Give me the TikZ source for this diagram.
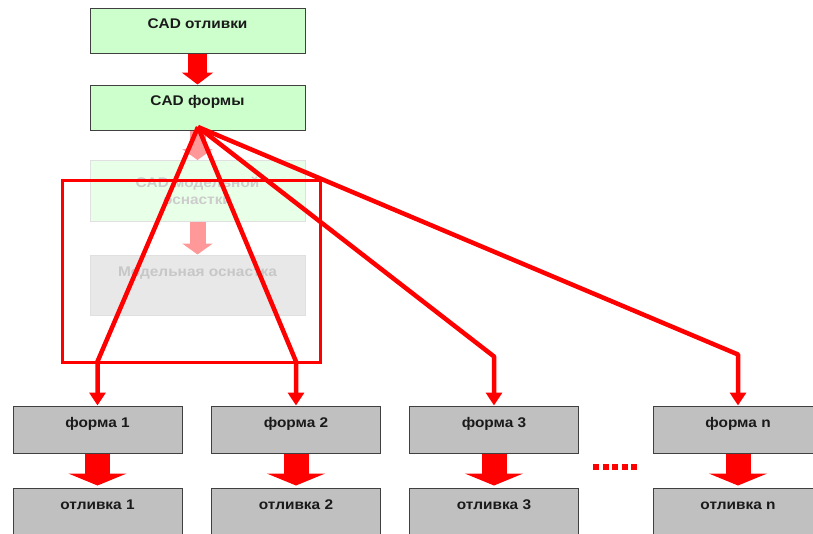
\documentclass[tikz,border=0pt]{standalone}
\usepackage{fontspec}
\setmainfont{Liberation Sans}[FakeStretch=1.1, UprightFont=* Bold]
\usetikzlibrary{arrows.meta}
\definecolor{boxgreen}{HTML}{CCFFCC}
\definecolor{boxgrey}{HTML}{C0C0C0}
\definecolor{txt}{HTML}{1A1A1A}
\begin{document}
\begin{tikzpicture}[x=1pt,y=1pt,
  font=\fontsize{14}{17}\selectfont,
  basebox/.style={draw=black!75, line width=1pt, inner sep=0pt, text=txt, text height=9pt, text depth=14pt},
  greenbox/.style={basebox, fill=boxgreen, minimum width=215pt, minimum height=45pt},
  greybox/.style={basebox, fill=boxgrey, minimum width=169pt, minimum height=47pt},
  fadedgreen/.style={draw=black!12, line width=1pt, fill=boxgreen!45, text=black!20, minimum width=215pt, minimum height=61pt, inner sep=0pt, align=center},
  fadedgrey/.style={draw=black!12, line width=1pt, fill=black!9, text=black!22, minimum width=215pt, minimum height=60pt, inner sep=0pt, text height=9pt, text depth=26pt},
  flow/.style={draw=red, line width=19pt, -{Triangle[width=31pt,length=12pt]}},
  fadedflow/.style={draw=red!40, line width=16pt, -{Triangle[width=30pt,length=11pt]}},
  bigflow/.style={draw=red, line width=25pt, shorten >=2pt, -{Triangle[width=58pt,length=12pt]}},
  fanline/.style={draw=red, line width=4.5pt, line join=round, -{Triangle[width=16pt,length=13pt]}},
  frame/.style={draw=red, line width=3pt}]
\useasboundingbox (0,0) rectangle (813,-533);
\fill[white] (0,0) rectangle (813,-533);

% top chain
\node[greenbox] (cadcast) at (197.5,-30.5) {CAD отливки};
\node[greenbox] (cadform) at (197.5,-107.5) {CAD формы};
\node[fadedgreen] (cadtool) at (197.5,-191) {CAD модельной\\оснастки};
\node[fadedgrey] (tool) at (197.5,-285) {Модельная оснастка};

\draw[flow] (cadcast.south) -- (cadform.north);
\draw[fadedflow] (cadform.south) -- (cadtool.north);
\draw[fadedflow] (cadtool.south) -- (tool.north);

% bottom row
\node[greybox] (f1) at (97.5,-429.5) {форма 1};
\node[greybox] (f2) at (296,-429.5) {форма 2};
\node[greybox] (f3) at (494,-429.5) {форма 3};
\node[greybox] (fn) at (738,-429.5) {форма n};
\node[greybox] (c1) at (97.5,-511.5) {отливка 1};
\node[greybox] (c2) at (296,-511.5) {отливка 2};
\node[greybox] (c3) at (494,-511.5) {отливка 3};
\node[greybox] (cn) at (738,-511.5) {отливка n};

\draw[bigflow] (f1.south) -- (c1.north);
\draw[bigflow] (f2.south) -- (c2.north);
\draw[bigflow] (f3.south) -- (c3.north);
\draw[bigflow] (fn.south) -- (cn.north);

\draw[red, line width=6pt, dash pattern=on 6pt off 3.5pt] (593,-467) -- (640,-467);

% fan of connectors
\coordinate (fan) at (198,-127);
\draw[fanline] (fan) -- ([yshift=44pt]f1.north) -- (f1.north);
\draw[fanline] (fan) -- ([yshift=44pt]f2.north) -- (f2.north);
\draw[fanline] (fan) -- ([yshift=49pt]f3.north) -- (f3.north);
\draw[fanline] (fan) -- ([yshift=51pt]fn.north) -- (fn.north);

% highlight frame
\draw[frame] (62,-180) rectangle (320,-362);
\end{tikzpicture}
\end{document}
